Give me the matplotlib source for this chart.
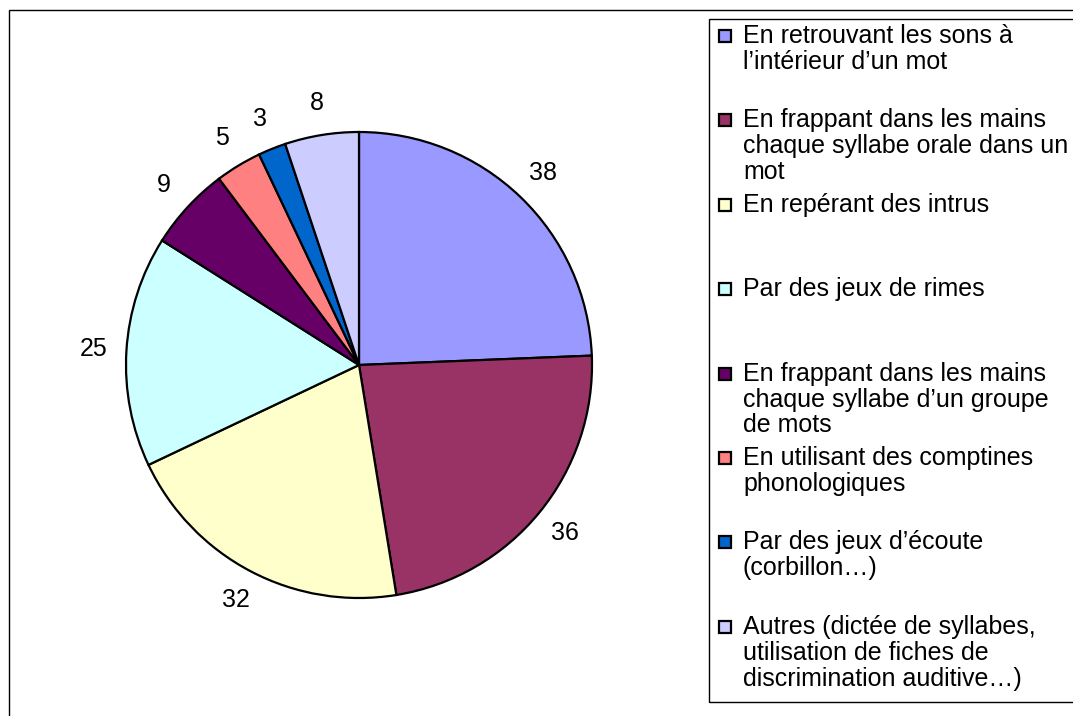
import matplotlib
matplotlib.use("Agg")
import matplotlib.pyplot as plt
from matplotlib.patches import Rectangle

plt.rcParams['font.family'] = ['Liberation Sans', 'DejaVu Sans']

categories = [
    "En retrouvant les sons à\nl’intérieur d’un mot",
    "En frappant dans les mains\nchaque syllabe orale dans un\nmot",
    "En repérant des intrus",
    "Par des jeux de rimes",
    "En frappant dans les mains\nchaque syllabe d’un groupe\nde mots",
    "En utilisant des comptines\nphonologiques",
    "Par des jeux d’écoute\n(corbillon…)",
    "Autres (dictée de syllabes,\nutilisation de fiches de\ndiscrimination auditive…)",
]
values = [38, 36, 32, 25, 9, 5, 3, 8]
colors = ["#9999FF", "#993366", "#FFFFCC", "#CCFFFF", "#660066", "#FF8080", "#0066CC", "#CCCCFF"]

W, H = 1073, 716
fig = plt.figure(figsize=(W / 100, H / 100), dpi=100)

# outer border
fig.patches.append(Rectangle((9 / W, 0 - 0.01), 1.1, (H - 10) / H + 0.01, transform=fig.transFigure,
                             fill=False, edgecolor="black", linewidth=1.0, clip_on=False))

cx, cy, R = 359, 365, 233
ax = fig.add_axes([(cx - R) / W, (H - cy - R) / H, 2 * R / W, 2 * R / H])
wedges, texts = ax.pie(values, colors=colors, startangle=90, counterclock=False,
                       labels=[str(v) for v in values], labeldistance=1.14,
                       wedgeprops=dict(edgecolor="black", linewidth=1.6),
                       textprops=dict(fontsize=18, color="black"))
for t in texts:
    t.set_ha("center")
    t.set_va("center")
ax.set_xlim(-1, 1)
ax.set_ylim(-1, 1)
ax.set_aspect("equal")
ax.axis("off")

# legend box
lx0, ly0, lx1, ly1 = 709, 19, 1080, 702
fig.patches.append(Rectangle((lx0 / W, (H - ly1) / H), (lx1 - lx0) / W, (ly1 - ly0) / H,
                             transform=fig.transFigure, fill=False, edgecolor="black",
                             linewidth=1.0, clip_on=False))
first_y = 36
step = 84.4
for i, (lab, col) in enumerate(zip(categories, colors)):
    yc = first_y + i * step
    fig.patches.append(Rectangle((719 / W, (H - yc - 6) / H), 12 / W, 12 / H,
                                 transform=fig.transFigure, facecolor=col,
                                 edgecolor="black", linewidth=1.6))
    fig.text(743 / W, (H - yc + 12) / H, lab, fontsize=18, ha="left", va="top",
             linespacing=1.1)

fig.savefig("out.png", dpi=100)
